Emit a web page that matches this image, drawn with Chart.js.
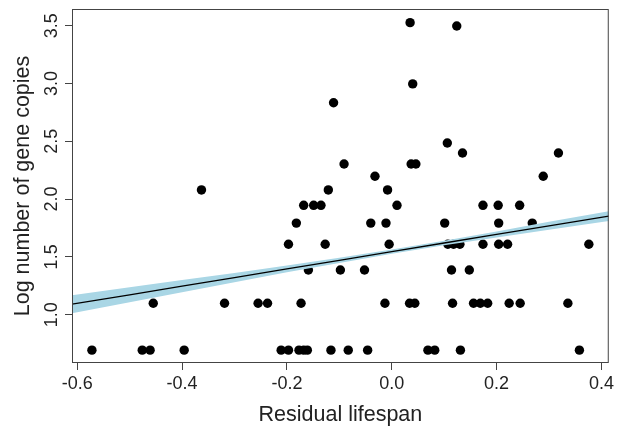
<!DOCTYPE html>
<html>
<head>
<meta charset="utf-8">
<script src="https://cdn.jsdelivr.net/npm/chart.js@4/dist/chart.umd.min.js"></script>
<style>
  html, body { margin: 0; padding: 0; background: #fff; }
  #wrap { width: 617px; height: 426px; }
</style>
</head>
<body>
<div id="wrap"><canvas id="chart" width="617" height="426"></canvas></div>
<script>
// Observed points: residual lifespan vs log number of gene copies
const residual = [
  -0.572, -0.476, -0.461, -0.396, -0.211, -0.197, -0.177, -0.168, -0.161, -0.116, -0.083, -0.046, 0.069, 0.082, 0.131, 0.358,
  -0.455, -0.319, -0.255, -0.237, -0.173, -0.013, 0.034, 0.044, 0.116, 0.156, 0.169, 0.183, 0.224, 0.245, 0.336,
  -0.159, -0.098, -0.052, 0.114, 0.148,
  -0.197, -0.127, -0.005, 0.107, 0.118, 0.130, 0.174, 0.204, 0.221, 0.376,
  -0.182, -0.040, -0.011, 0.101, 0.204, 0.268,
  -0.168, -0.149, -0.135, 0.010, 0.174, 0.203, 0.244,
  -0.363, -0.121, -0.008,
  -0.032, 0.289,
  -0.091, 0.037, 0.046,
  0.135, 0.318,
  0.106,
  -0.111,
  0.040,
  0.035,
  0.124
];
const logCopies = [
  0.693, 0.693, 0.693, 0.693, 0.693, 0.693, 0.693, 0.693, 0.693, 0.693, 0.693, 0.693, 0.693, 0.693, 0.693, 0.693,
  1.099, 1.099, 1.099, 1.099, 1.099, 1.099, 1.099, 1.099, 1.099, 1.099, 1.099, 1.099, 1.099, 1.099, 1.099,
  1.386, 1.386, 1.386, 1.386, 1.386,
  1.609, 1.609, 1.609, 1.609, 1.609, 1.609, 1.609, 1.609, 1.609, 1.609,
  1.792, 1.792, 1.792, 1.792, 1.792, 1.792,
  1.946, 1.946, 1.946, 1.946, 1.946, 1.946, 1.946,
  2.079, 2.079, 2.079,
  2.197, 2.197,
  2.303, 2.303, 2.303,
  2.398, 2.398,
  2.485,
  2.833,
  2.996,
  3.526,
  3.497
];

// Fitted line with its confidence band
const fitX = [-0.61, -0.5, -0.4, -0.3, -0.2, -0.1, 0, 0.1, 0.2, 0.3, 0.414];
const fitY = [1.091, 1.172, 1.247, 1.321, 1.396, 1.470, 1.545, 1.620, 1.694, 1.769, 1.853];
const bandUpper = [1.169, 1.237, 1.299, 1.361, 1.426, 1.492, 1.563, 1.640, 1.720, 1.803, 1.895];
const bandLower = [1.013, 1.107, 1.195, 1.281, 1.366, 1.448, 1.527, 1.600, 1.668, 1.735, 1.811];

// Axis ticks
const xTicks = [-0.6, -0.4, -0.2, 0.0, 0.2, 0.4];
const yTicks = [1.0, 1.5, 2.0, 2.5, 3.0, 3.5];

const FONT = "'Liberation Sans', Arial, sans-serif";

const pts = residual.map((x, i) => ({ x: x, y: logCopies[i] }));
const line = fitX.map((x, i) => ({ x: x, y: fitY[i] }));
const upper = fitX.map((x, i) => ({ x: x, y: bandUpper[i] }));
const lower = fitX.map((x, i) => ({ x: x, y: bandLower[i] }));

// box around the plot + rotated y tick labels (R style)
const rBox = {
    id: 'rBox',
    afterDraw(chart) {
        const { ctx, chartArea: a } = chart;
        const ys = chart.scales.y;
        ctx.save();
        ctx.strokeStyle = '#444';
        ctx.lineWidth = 1;
        ctx.strokeRect(a.left + 0.5, a.top + 0.5, a.right - a.left - 1, a.bottom - a.top - 1);
        ctx.fillStyle = '#222';
        ctx.font = '18px ' + FONT;
        ctx.textAlign = 'center';
        ctx.textBaseline = 'alphabetic';
        yTicks.forEach(v => {
            ctx.save();
            ctx.translate(56.5, ys.getPixelForValue(v));
            ctx.rotate(-Math.PI / 2);
            ctx.fillText(v.toFixed(1), 0, 0);
            ctx.restore();
        });
        ctx.restore();
    }
};

const ctx = document.getElementById('chart').getContext('2d');
const chart = new Chart(ctx, {
    type: 'scatter',
    data: {
        datasets: [
            {
                label: 'fit',
                data: line,
                showLine: true,
                borderColor: '#000',
                borderWidth: 1.3,
                pointRadius: 0,
                fill: false
            },
            {
                label: 'lower',
                data: lower,
                showLine: true,
                borderWidth: 0,
                borderColor: 'rgba(0,0,0,0)',
                pointRadius: 0,
                fill: false
            },
            {
                label: 'upper',
                data: upper,
                showLine: true,
                borderWidth: 0,
                borderColor: 'rgba(0,0,0,0)',
                backgroundColor: '#a9d6e5',
                pointRadius: 0,
                fill: '-1'
            },
            {
                label: 'points',
                data: pts,
                backgroundColor: '#000',
                borderColor: '#000',
                pointRadius: 4.7,
                borderWidth: 0
            }
        ]
    },
    options: {
        responsive: false,
        animation: false,
        layout: { padding: { left: 0, right: 5, top: 9, bottom: 0 } },
        plugins: {
            legend: { display: false },
            tooltip: { enabled: false }
        },
        scales: {
            x: {
                type: 'linear',
                min: -0.61,
                max: 0.414,
                afterBuildTicks: s => { s.ticks = xTicks.map(v => ({ value: v })); },
                afterFit: s => { s.height = 63; },
                border: { display: false },
                grid: { drawOnChartArea: false, tickLength: 7, color: '#444' },
                ticks: {
                    font: { size: 18, family: FONT },
                    color: '#222',
                    padding: 3,
                    maxRotation: 0,
                    callback: v => v.toFixed(1)
                },
                title: {
                    display: true,
                    text: 'Residual lifespan',
                    font: { size: 21.5, family: FONT, lineHeight: 1.0 },
                    color: '#222',
                    padding: { top: 0, bottom: 0 }
                }
            },
            y: {
                type: 'linear',
                min: 0.582,
                max: 3.644,
                afterBuildTicks: s => { s.ticks = yTicks.map(v => ({ value: v })); },
                afterFit: s => { s.width = 72; },
                border: { display: false },
                grid: { drawOnChartArea: false, tickLength: 7, color: '#444' },
                ticks: { display: false },
                title: {
                    display: true,
                    text: 'Log number of gene copies',
                    font: { size: 21.5, family: FONT },
                    color: '#222',
                    padding: { top: 10, bottom: 0 }
                }
            }
        }
    },
    plugins: [rBox]
});
</script>
</body>
</html>
